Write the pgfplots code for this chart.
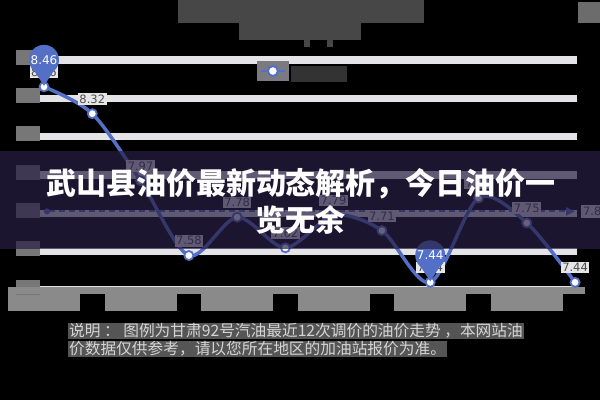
\documentclass[border=0pt]{standalone}
\usepackage{pgfplots}
\usepackage{pgfplotstable}
\pgfplotsset{compat=1.18}
\usetikzlibrary{arrows.meta}
\usepackage{fontspec}
\setmainfont{DejaVu Sans}
\newfontfamily\cjk{Noto Sans CJK SC}

\definecolor{ecblue}{HTML}{5470C6}
\definecolor{gridc}{HTML}{E4E4E6}
\definecolor{axgray}{HTML}{8A8A8A}
\definecolor{ygray}{HTML}{777777}
\definecolor{lblfill}{HTML}{E6E6E6}
\definecolor{lbltext}{HTML}{4D4D4D}
\definecolor{banner}{HTML}{281E44}
\definecolor{capbg}{HTML}{555555}
\definecolor{captext}{HTML}{D4D4D4}
\definecolor{maskbox}{HTML}{474747}
\definecolor{legicon}{HTML}{7A7A80}
\definecolor{legtext}{HTML}{333333}

% balloon marker for max / min
\pgfdeclareplotmark{pin}{%
  \pgfpathcircle{\pgfpoint{0pt}{27pt}}{15pt}\pgfusepathqfill
  \pgfpathmoveto{\pgfpoint{-11pt}{18pt}}%
  \pgfpathlineto{\pgfpoint{0pt}{1pt}}%
  \pgfpathlineto{\pgfpoint{11pt}{18pt}}%
  \pgfpathclose\pgfusepathqfill}

% last 12 price adjustments
\pgfplotstableread{
x y
0 8.46
1 8.32
2 7.97
3 7.58
4 7.78
5 7.62
6 7.79
7 7.71
8 7.44
9 7.88
10 7.75
11 7.44
}\prices

\begin{document}
\begin{tikzpicture}
\fill[black] (0pt,0pt) rectangle (600pt,-400pt);

% masked title / toolbox
\fill[maskbox] (178pt,0pt) rectangle (424pt,-23pt);
\fill[maskbox] (239pt,-23pt) rectangle (361pt,-40pt);
\fill[maskbox] (304pt,-40pt) rectangle (310pt,-47pt);
\fill[maskbox] (327pt,-40pt) rectangle (333pt,-47pt);
\fill[maskbox!80!white] (578pt,-2pt) rectangle (600pt,-23pt);

\begin{axis}[
    scale only axis,
    at={(40pt,-290pt)}, anchor=south west,
    width=537pt, height=230pt,
    xmin=-0.083, xmax=11.04,
    ymin=7.4, ymax=8.6,
    clip=false,
    axis line style={draw=none},
    major tick length=0pt,
    xtick={0,2,4,6,8,10},
    xticklabel={\phantom{0}},
    xticklabel style={fill=axgray, minimum width=72pt, minimum height=17pt,
        inner sep=0pt, anchor=north, yshift=-4pt},
    ytick={7.4,7.6,7.8,8.0,8.2,8.4,8.6},
    yticklabel={\phantom{0}},
    yticklabel style={fill=ygray, minimum width=24pt, minimum height=15pt,
        inner sep=0pt, anchor=east, yshift=3pt},
    ymajorgrids,
    grid style={line width=7.5pt, color=gridc},
    /pgf/number format/.cd, fixed, fixed zerofill, precision=2,
        assume math mode=true,
    /pgfplots/.cd,
    legend style={at={(axis description cs:0.404,0.952)}, anchor=west,
        draw=none, fill=none, inner sep=0pt,
        /tikz/every even column/.style={column sep=5pt}},
]
\draw[axgray, line width=7pt] ([xshift=-32pt]rel axis cs:0,0) -- ([xshift=8pt]rel axis cs:1,0);

\addplot[ecblue, line width=3.5pt, smooth, tension=0.5,
    mark=*, mark size=4.5pt,
    mark options={fill=white, draw=ecblue, line width=1.8pt},
    nodes near coords,
    every node near coord/.append style={font=\fontsize{11.5}{12}\selectfont,
        text=lbltext, fill=lblfill, inner sep=1.5pt, anchor=south, yshift=8pt},
    legend image code/.code={
        \fill[legicon] (-2pt,-8pt) rectangle (26pt,8pt);
        \draw[ecblue, line width=2pt] (0pt,0pt) -- (24pt,0pt);
        \draw[ecblue, fill=white, line width=2pt] (12pt,0pt) circle (5pt);
    }] table[x=x, y=y] {\prices};
\addlegendentry{\textcolor{legtext}{\rule[-8pt]{56pt}{16pt}}}

% average line
\addplot[ecblue, line width=2pt, dash pattern=on 6pt off 4pt, forget plot,
    {Circle[length=6pt]}-{Triangle[length=9pt, width=8pt]}]
    coordinates {(0,7.81) (11,7.81)}
    node[pos=1, anchor=west, xshift=5pt, fill=lblfill, text=lbltext, overlay,
        inner sep=2pt, font=\fontsize{11.5}{12}\selectfont] {7.81};

% max / min pins
\addplot[only marks, mark=pin, color=ecblue, forget plot,
    nodes near coords,
    every node near coord/.append style={anchor=center, yshift=27pt,
        text=white, font=\fontsize{12}{12}\selectfont}]
    coordinates {(0,8.46) (8,7.44)};
\end{axis}

% banner overlay
\fill[banner, fill opacity=0.7] (0pt,-151pt) rectangle (600pt,-249pt);
\node[text=white, font=\cjk\bfseries\fontsize{30}{37}\selectfont, align=center]
    at (301pt,-201pt) {武山县油价最新动态解析，今日油价一\\览无余};

% caption
\node[anchor=west, fill=capbg, text=captext, inner sep=1pt,
    font=\cjk\fontsize{15.7}{16}\selectfont] at (68pt,-331pt)
    {说明 ： 图例为甘肃92号汽油最近12次调价的油价走势 ，本网站油};
\node[anchor=west, fill=capbg, text=captext, inner sep=1pt,
    font=\cjk\fontsize{15.7}{16}\selectfont] at (68pt,-349pt)
    {价数据仅供参考，请以您所在地区的加油站报价为准。};
\end{tikzpicture}
\end{document}
